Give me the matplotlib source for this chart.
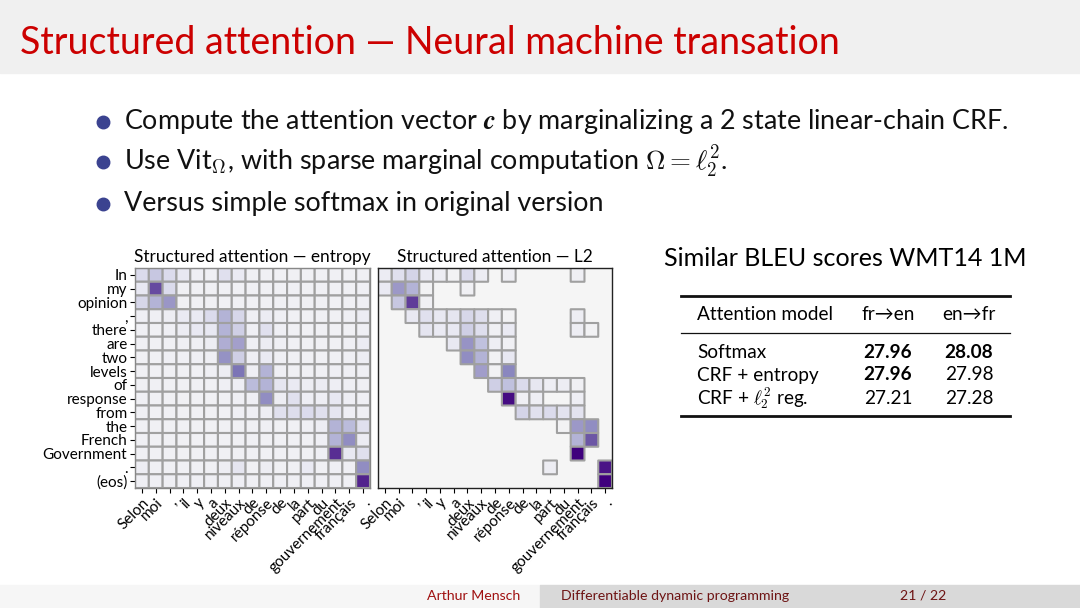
import matplotlib.pyplot as plt
import numpy as np
from matplotlib.colors import LinearSegmentedColormap
from matplotlib.lines import Line2D
from matplotlib.patches import Rectangle

plt.rcParams['font.family'] = ['Lato', 'DejaVu Sans']
plt.rcParams['mathtext.fontset'] = 'cm'

W, H = 1080, 608


def fx(x):
    return x / W


def fy(y):
    return 1 - y / H


source_words = ['Selon', 'moi', ',', 'il', 'y', 'a', 'deux', 'niveaux', 'de',
                'réponse', 'de', 'la', 'part', 'du', 'gouvernement', 'français', '.']
target_words = ['In', 'my', 'opinion', ',', 'there', 'are', 'two', 'levels', 'of',
                'response', 'from', 'the', 'French', 'Government', '.', '(eos)']

# attention weights (percent of the darkest cell)
attn_entropy = [
    [17, 25, 17, 9, 5, 4, 14, 8, 3, 3, 3, 3, 3, 3, 3, 3, 4],
    [9, 72, 17, 3, 3, 3, 3, 3, 3, 3, 3, 3, 3, 3, 3, 3, 4],
    [19, 33, 44, 3, 3, 3, 3, 3, 3, 3, 3, 3, 3, 3, 3, 3, 4],
    [4, 4, 6, 8, 8, 17, 33, 19, 4, 7, 4, 3, 3, 3, 3, 4, 7],
    [3, 3, 4, 7, 9, 9, 33, 22, 4, 14, 4, 3, 3, 3, 3, 3, 4],
    [3, 3, 3, 4, 4, 6, 35, 40, 4, 7, 4, 3, 3, 3, 3, 4, 7],
    [3, 3, 4, 4, 4, 4, 46, 22, 4, 8, 4, 3, 3, 3, 3, 4, 6],
    [3, 3, 3, 3, 3, 4, 6, 58, 4, 33, 4, 3, 3, 3, 4, 4, 4],
    [3, 3, 3, 3, 3, 3, 4, 5, 30, 33, 11, 8, 6, 7, 5, 4, 4],
    [3, 3, 3, 3, 3, 3, 3, 4, 4, 48, 6, 14, 5, 5, 9, 5, 4],
    [3, 3, 3, 3, 3, 3, 3, 4, 4, 5, 14, 16, 17, 14, 11, 5, 4],
    [3, 3, 3, 3, 3, 3, 3, 3, 3, 4, 3, 3, 4, 6, 33, 30, 14],
    [3, 3, 3, 3, 3, 3, 3, 3, 3, 3, 3, 3, 3, 4, 33, 48, 7],
    [3, 3, 3, 3, 3, 3, 3, 3, 3, 3, 3, 3, 3, 4, 82, 9, 14],
    [6, 3, 3, 3, 3, 3, 6, 11, 3, 6, 3, 3, 8, 3, 4, 4, 48],
    [4, 4, 4, 4, 4, 4, 4, 5, 4, 4, 4, 4, 4, 4, 4, 4, 86],
]

# zeros are exactly sparse (not drawn)
attn_l2 = [
    [7, 14, 20, 8, 6, 2, 17, 7, 0, 4, 0, 0, 0, 0, 4, 0, 0],
    [8, 43, 33, 2, 0, 0, 3, 0, 0, 0, 0, 0, 0, 0, 0, 0, 0],
    [0, 25, 77, 3, 0, 0, 0, 0, 0, 0, 0, 0, 0, 0, 0, 0, 0],
    [0, 0, 9, 14, 9, 11, 19, 15, 4, 2, 0, 0, 0, 0, 6, 0, 0],
    [0, 0, 0, 11, 8, 9, 22, 15, 3, 8, 0, 0, 0, 0, 6, 2, 0],
    [0, 0, 0, 0, 0, 9, 45, 28, 5, 3, 0, 0, 0, 0, 0, 0, 0],
    [0, 0, 0, 0, 0, 0, 48, 33, 2, 9, 0, 0, 0, 0, 0, 0, 0],
    [0, 0, 0, 0, 0, 0, 0, 41, 2, 51, 0, 0, 0, 0, 0, 0, 0],
    [0, 0, 0, 0, 0, 0, 0, 0, 22, 28, 17, 10, 5, 6, 3, 0, 0],
    [0, 0, 0, 0, 0, 0, 0, 0, 0, 95, 4, 5, 0, 0, 5, 0, 0],
    [0, 0, 0, 0, 0, 0, 0, 0, 0, 0, 20, 14, 17, 12, 12, 0, 0],
    [0, 0, 0, 0, 0, 0, 0, 0, 0, 0, 0, 0, 0, 2, 43, 48, 0],
    [0, 0, 0, 0, 0, 0, 0, 0, 0, 0, 0, 0, 0, 0, 33, 68, 0],
    [0, 0, 0, 0, 0, 0, 0, 0, 0, 0, 0, 0, 0, 0, 100, 0, 0],
    [0, 0, 0, 0, 0, 0, 0, 0, 0, 0, 0, 0, 6, 0, 0, 0, 92],
    [0, 0, 0, 0, 0, 0, 0, 0, 0, 0, 0, 0, 0, 0, 0, 0, 100],
]

models = ['Softmax', 'CRF + entropy', r'CRF + $\ell_2^2$ reg.']
bleu_fr_en = [27.96, 27.96, 27.21]
bleu_en_fr = [28.08, 27.98, 27.28]

bullets = [
    r'Compute the attention vector $\boldsymbol{c}$ by marginalizing a 2 state linear-chain CRF.',
    r'Use Vit$_\Omega$, with sparse marginal computation $\Omega = \ell_2^2$.',
    'Versus simple softmax in original version',
]

cmap = LinearSegmentedColormap.from_list(
    'purp', ['#f5f5f5', '#ebebf3', '#dadaeb', '#bcbddc', '#9e9ac8',
             '#807dba', '#6a51a3', '#54278f', '#3f007d'], gamma=0.8)

fig = plt.figure(figsize=(10.8, 6.08), dpi=100)

# title bar
fig.add_artist(Rectangle((0, fy(73)), 1, 73 / H, transform=fig.transFigure,
                         color='#f0f0f0', zorder=0))
fig.text(fx(20), fy(43), 'Structured attention — Neural machine transation',
         fontsize=27, color='#cc0000', va='center')

# bullets
for i, b in enumerate(bullets):
    y = [122, 162, 204][i]
    fig.add_artist(Line2D([fx(103)], [fy(y)], marker='o', markersize=9,
                          color='#3b4390', transform=fig.transFigure))
    fig.text(fx(124), fy(y), b, fontsize=19.4, va='center', color='#111111')


def draw_map(rect, data, title, sparse, ylabels):
    ax = fig.add_axes(rect)
    d = np.array(data, dtype=float) / 100
    if sparse:
        d = np.ma.masked_equal(d, 0)
    ax.set_facecolor('#f5f5f5')
    # pcolor drops masked cells entirely, so no edges are drawn for them
    ax.pcolor(d, cmap=cmap, vmin=0, vmax=1, edgecolors='#a0a0a0',
              linewidth=1.5)
    ax.set_xlim(0, d.shape[1])
    ax.set_ylim(d.shape[0], 0)
    ax.set_xticks(np.arange(d.shape[1]) + 0.5)
    ax.set_xticklabels(source_words, rotation=45, ha='right',
                       rotation_mode='anchor', fontsize=11)
    if ylabels:
        ax.set_yticks(np.arange(d.shape[0]) + 0.5)
        ax.set_yticklabels(target_words, fontsize=11)
    else:
        ax.set_yticks([])
    ax.tick_params(length=3.5, width=0.8, pad=2)
    for s in ax.spines.values():
        s.set_linewidth(1.0)
        s.set_color('#222222' if sparse else '#888888')
    ax.set_title(title, fontsize=12.4, pad=4)
    return ax


draw_map([fx(135), fy(488), 235 / W, 220 / H], attn_entropy,
         'Structured attention — entropy', False, True)
draw_map([fx(378), fy(488), 234 / W, 220 / H], attn_l2,
         'Structured attention — L2', True, False)

# table
fig.text(fx(664), fy(259), 'Similar BLEU scores WMT14 1M', fontsize=18.1,
         va='center')
for y, lw in [(296, 2.0), (333, 0.9), (416, 2.0)]:
    fig.add_artist(Line2D([fx(681), fx(1010)], [fy(y), fy(y)], lw=lw,
                          color='#111111', transform=fig.transFigure))
fig.text(fx(697), fy(315), 'Attention model', fontsize=13.7, va='center')
fig.text(fx(888), fy(315), 'fr→en', fontsize=13.7, va='center', ha='center')
fig.text(fx(969), fy(315), 'en→fr', fontsize=13.7, va='center', ha='center')
for i, m in enumerate(models):
    y = [352, 375, 398][i]
    fig.text(fx(697), fy(y), m, fontsize=13.7, va='center')
    for x, col in [(888, bleu_fr_en), (969, bleu_en_fr)]:
        v = col[i]
        fig.text(fx(x), fy(y), f'{v:.2f}', fontsize=13.7, va='center',
                 ha='center', fontweight='bold' if v == max(col) else 'normal')

# footer
fig.add_artist(Rectangle((0, 0), 540 / W, 23 / H, transform=fig.transFigure,
                         color='#f6f6f6', zorder=0))
fig.add_artist(Rectangle((540 / W, 0), 540 / W, 23 / H,
                         transform=fig.transFigure, color='#d9d9d9', zorder=0))
fig.text(fx(520), fy(596), 'Arthur Mensch', fontsize=10.2, color='#a01010',
         ha='right', va='center')
fig.text(fx(561), fy(596), 'Differentiable dynamic programming', fontsize=10.2,
         color='#6e1414', va='center')
fig.text(fx(946), fy(596), '21 / 22', fontsize=10.2, color='#6e1414',
         ha='right', va='center')

fig.savefig('out.png', dpi=100)
